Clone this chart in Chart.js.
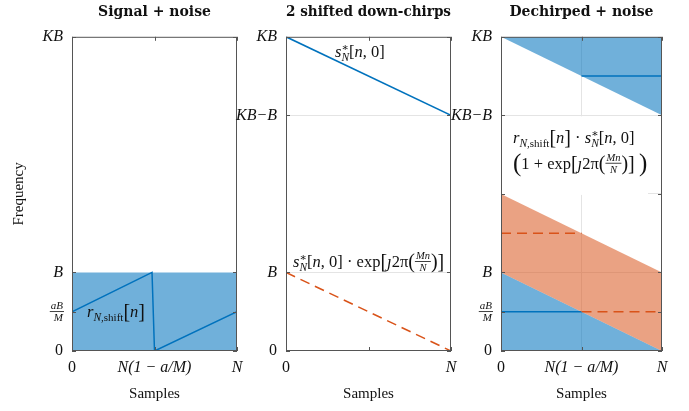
<!doctype html>
<html lang="en">
<head>
<meta charset="utf-8">
<title>Dechirp with shifted down-chirps</title>
<script src="https://cdn.jsdelivr.net/npm/chart.js"></script>
<style>
  body { margin: 0; background: #fff; }
  .wrap { position: relative; width: 689px; height: 411px; }
  .wrap canvas { position: absolute; left: 0; top: 0; }
</style>
</head>
<body>
<div class="wrap">
  <canvas id="sigChart" width="689" height="411"></canvas>
  <canvas id="chirpChart" width="689" height="411"></canvas>
  <canvas id="dechChart" width="689" height="411"></canvas>
</div>
<script>
// frequency in units of B, samples in units of N (K = 4, a/M = 1/2)

// panel 1 - signal + noise
const xTicks1 = [0, 0.5, 1];
const xText1 = ['0', 'N(1 − a/M)', 'N'];
const yTicks1 = [0, 0.5, 1, 4];
const yText1 = ['0', 'aB/M', 'B', 'KB'];
const bandX = [0, 1];
const bandTop = [1, 1];
const sigX = [0, 0.485, 0.5, 1];
const sigY = [0.5, 1, 0, 0.5];

// panel 2 - two shifted down-chirps
const xTicks2 = [0, 0.5, 1];
const xText2 = ['0', '', 'N'];
const yTicks2 = [0, 1, 3, 4];
const yText2 = ['0', 'B', 'KB−B', 'KB'];
const chirpX = [0, 1];
const chirpRef = [4, 3];
const chirpShift = [1, 0];

// panel 3 - dechirped + noise
const xTicks3 = [0, 0.5, 1];
const xText3 = ['0', 'N(1 − a/M)', 'N'];
const yTicks3 = [0, 0.5, 1, 2, 3, 4];
const yText3 = ['0', 'aB/M', 'B', '', 'KB−B', 'KB'];
const dechX = [0, 1];
const refUpper = [4, 3];
const shiftUpper = [2, 1];
const refLower = [1, 0];
const toneX = [0, 0.5, 0.5, 0.5, 1];
const toneRef = [0.5, 0.5, null, 3.5, 3.5];
const toneShift = [1.5, 1.5, null, 0.5, 0.5];

const SERIF = '"Liberation Serif", "DejaVu Serif", serif';
const BLUE = '#0072BD';
const ORANGE = '#D95319';
const BLUE_FILL = 'rgba(0, 114, 189, 0.56)';
const ORANGE_FILL = 'rgba(217, 83, 25, 0.54)';
const GRID = '#e4e4e4';
const NONE = 'rgba(0,0,0,0)';

function pts(xs, ys) {
  return xs.map((x, i) => ({x: x, y: ys[i]}));
}

function tickFont(c) {
  const lbl = c.tick ? c.tick.label : '';
  if (lbl === '0') return {family: SERIF, size: 16};
  if (Array.isArray(lbl)) return {family: SERIF, size: 11, style: 'italic', lineHeight: 1.1};
  return {family: SERIF, size: 16, style: 'italic'};
}

function axes(xt, xtext, yt, ytext, gridX, gridY, yWidth, yTitle) {
  return {
    x: {
      type: 'linear', min: 0, max: 1,
      afterBuildTicks: s => { s.ticks = xt.map(v => ({value: v})); },
      afterFit: s => { s.height = 54; s.paddingLeft = 0; s.paddingRight = 0; },
      border: {display: false},
      grid: {drawTicks: false, color: c => (c.tick && gridX.includes(c.tick.value)) ? GRID : NONE},
      ticks: {
        padding: 7, maxRotation: 0, autoSkip: false, color: '#111', font: tickFont,
        callback: (v, i) => xtext[i]
      },
      title: {display: true, text: 'Samples', color: '#111', font: {family: SERIF, size: 15}, padding: {top: 0, bottom: 2}}
    },
    y: {
      type: 'linear', min: 0, max: 4,
      afterBuildTicks: s => { s.ticks = yt.map(v => ({value: v})); },
      afterFit: s => { s.width = yWidth; s.paddingTop = 0; s.paddingBottom = 0; },
      border: {display: false},
      grid: {drawTicks: false, color: c => (c.tick && gridY.includes(c.tick.value)) ? GRID : NONE},
      ticks: {
        padding: 9, autoSkip: false, color: '#111', font: tickFont,
        callback: (v, i) => ytext[i] === 'aB/M' ? ['aB', 'M'] : ytext[i]
      },
      title: {display: !!yTitle, text: yTitle || '', color: '#111', font: {family: SERIF, size: 15}, padding: {top: 6, bottom: 0}}
    }
  };
}

// draws text made of several runs (italic, subscripts, small fractions)
function drawRuns(ctx, x, y, runs) {
  ctx.save();
  ctx.fillStyle = '#111';
  ctx.textBaseline = 'alphabetic';
  for (const r of runs) {
    ctx.font = r.f;
    if (r.frac) {
      const w = Math.max(ctx.measureText(r.frac[0]).width, ctx.measureText(r.frac[1]).width) + 2;
      ctx.textAlign = 'center';
      ctx.fillText(r.frac[0], x + w / 2, y - 8);
      ctx.fillText(r.frac[1], x + w / 2, y + 4);
      ctx.fillRect(x, y - 6, w, 0.8);
      ctx.textAlign = 'left';
      x += w;
      continue;
    }
    ctx.textAlign = 'left';
    ctx.fillText(r.t, x, y + (r.dy || 0));
    if (!r.stay) x += ctx.measureText(r.t).width;
  }
  ctx.restore();
}

const I16 = 'italic 16.5px ' + SERIF;
const R16 = '16.5px ' + SERIF;
const I11 = 'italic 11.5px ' + SERIF;
const R11 = '11px ' + SERIF;
const B20 = '20px ' + SERIF;
const B25 = '25px ' + SERIF;
const I10 = 'italic 10.5px ' + SERIF;

const rShift = [
  {t: 'r', f: I16}, {t: 'N', f: I11, dy: 4}, {t: ',shift', f: R11, dy: 4},
  {t: '[', f: B20, dy: 1}, {t: 'n', f: I16}, {t: ']', f: B20, dy: 1}
];
const sConj = [
  {t: 's', f: I16}, {t: '∗', f: '11px ' + SERIF, dy: -6, stay: true}, {t: 'N', f: I11, dy: 4},
  {t: '[', f: R16}, {t: 'n', f: I16}, {t: ', 0]', f: R16}
];
const expPart = [
  {t: 'exp', f: R16}, {t: '[', f: B20, dy: 1}, {t: 'ȷ', f: I16}, {t: '2π', f: R16},
  {t: '(', f: B20, dy: 1}, {frac: ['Mn', 'N'], f: I10}, {t: ')', f: B20, dy: 1}, {t: ']', f: B20, dy: 1}
];

function framePlugin(extra) {
  return {
    id: 'frame',
    beforeDatasetsDraw(chart) {
      if (extra.under) extra.under(chart);
    },
    afterDatasetsDraw(chart) {
      const {ctx, chartArea: a, scales} = chart;
      ctx.save();
      ctx.strokeStyle = '#555';
      ctx.lineWidth = 1;
      ctx.strokeRect(a.left + 0.5, a.top + 0.5, a.right - a.left - 1, a.bottom - a.top - 1);
      ctx.beginPath();
      scales.x.ticks.forEach(t => {
        const px = Math.round(scales.x.getPixelForValue(t.value)) + 0.5;
        ctx.moveTo(px, a.bottom); ctx.lineTo(px, a.bottom - 4);
        ctx.moveTo(px, a.top); ctx.lineTo(px, a.top + 4);
      });
      scales.y.ticks.forEach(t => {
        const py = Math.round(scales.y.getPixelForValue(t.value)) + 0.5;
        ctx.moveTo(a.left, py); ctx.lineTo(a.left + 4, py);
        ctx.moveTo(a.right, py); ctx.lineTo(a.right - 4, py);
      });
      ctx.stroke();
      // fraction bar for the aB/M tick label
      const fr = scales.y.ticks.find(t => Array.isArray(t.label));
      if (fr) {
        ctx.font = 'italic 11px ' + SERIF;
        const w = ctx.measureText('aB').width + 1;
        const py = scales.y.getPixelForValue(fr.value);
        ctx.fillStyle = '#111';
        ctx.fillRect(a.left - 9 - w, py - 0.5, w + 1, 0.8);
      }
      ctx.restore();
      if (extra.over) extra.over(chart);
    }
  };
}

function lineSet(data, color, dash, fill, bg) {
  return {
    data: data, borderColor: color, borderWidth: color === NONE ? 0 : 1.5,
    borderDash: dash || [], pointRadius: 0, tension: 0,
    fill: fill || false, backgroundColor: bg || NONE
  };
}

function baseOptions(title, scales, pad) {
  return {
    responsive: false, animation: false,
    layout: {padding: pad},
    scales: scales,
    plugins: {
      legend: {display: false}, tooltip: {enabled: false},
      title: {
        display: true, text: title, fullSize: false, color: '#111',
        font: {family: '"DejaVu Serif", serif', size: 14, weight: 'bold'}, padding: {top: 2, bottom: 16}
      }
    }
  };
}

new Chart(document.getElementById('sigChart'), {
  type: 'line',
  data: {datasets: [
    lineSet(pts(bandX, bandTop), NONE, null, 'origin', BLUE_FILL),
    lineSet(pts(sigX, sigY), BLUE)
  ]},
  options: baseOptions('Signal + noise',
    axes(xTicks1, xText1, yTicks1, yText1, [], [], 68, 'Frequency'),
    {left: 4, right: 452, top: 2, bottom: 6}),
  plugins: [framePlugin({
    over(chart) {
      const a = chart.chartArea;
      drawRuns(chart.ctx, a.left + 15, a.bottom - 34, rShift);
    }
  })]
});

new Chart(document.getElementById('chirpChart'), {
  type: 'line',
  data: {datasets: [
    lineSet(pts(chirpX, chirpRef), BLUE),
    lineSet(pts(chirpX, chirpShift), ORANGE, [10, 6])
  ]},
  options: baseOptions('2 shifted down-chirps',
    axes(xTicks2, xText2, yTicks2, yText2, [], [1, 3], 60),
    {left: 226, right: 238, top: 2, bottom: 6}),
  plugins: [framePlugin({
    over(chart) {
      const a = chart.chartArea;
      drawRuns(chart.ctx, a.left + 49, a.top + 20, sConj);
      drawRuns(chart.ctx, a.left + 7, a.bottom - 84,
        sConj.concat([{t: ' · ', f: R16}], expPart));
    }
  })]
});

new Chart(document.getElementById('dechChart'), {
  type: 'line',
  data: {datasets: [
    lineSet(pts(dechX, refUpper), NONE, null, 'end', BLUE_FILL),
    lineSet(pts(dechX, shiftUpper), NONE, null, '+1', ORANGE_FILL),
    lineSet(pts(dechX, refLower), NONE, null, 'origin', BLUE_FILL),
    lineSet(pts(toneX, toneRef), BLUE),
    lineSet(pts(toneX, toneShift), ORANGE, [10, 6])
  ]},
  options: baseOptions('Dechirped + noise',
    axes(xTicks3, xText3, yTicks3, yText3, [0.5], [1, 2, 3], 60),
    {left: 441, right: 27, top: 2, bottom: 6}),
  plugins: [framePlugin({
    under(chart) {
      const {ctx, chartArea: a, scales} = chart;
      const top = scales.y.getPixelForValue(3) + 1;
      const bot = scales.y.getPixelForValue(2) + 1;
      ctx.save();
      ctx.fillStyle = '#fff';
      ctx.fillRect(a.left + 1, top, a.right - a.left - 15, bot - top);
      ctx.restore();
    },
    over(chart) {
      const a = chart.chartArea;
      drawRuns(chart.ctx, a.left + 12, a.top + 106,
        rShift.concat([{t: ' · ', f: R16}], sConj));
      drawRuns(chart.ctx, a.left + 12, a.top + 132,
        [{t: '(', f: B25, dy: 2}, {t: '1 + ', f: R16}].concat(expPart, [{t: ' ', f: R16}, {t: ')', f: B25, dy: 2}]));
    }
  })]
});
</script>
</body>
</html>
